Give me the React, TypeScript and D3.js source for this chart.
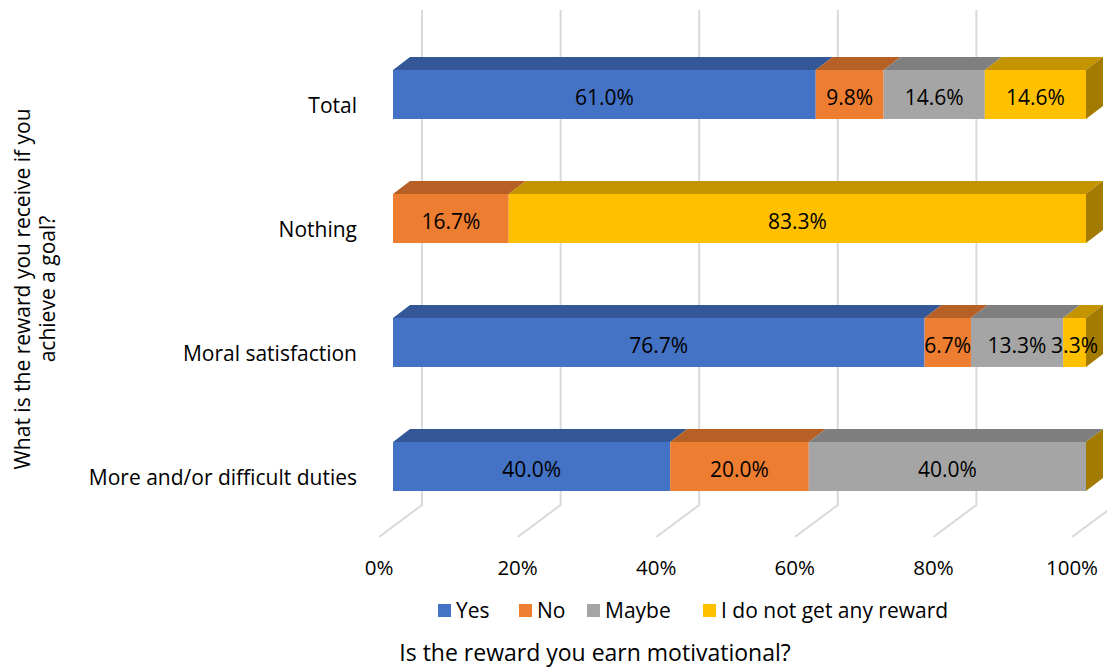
import React from "react";
import * as d3 from "d3";

// Survey answers per reward type, shares in percent
const categories = ["Total", "Nothing", "Moral satisfaction", "More and/or difficult duties"];
const seriesNames = ["Yes", "No", "Maybe", "I do not get any reward"];
const yesValues = [61.0, 0, 76.7, 40.0];
const noValues = [9.8, 16.7, 6.7, 20.0];
const maybeValues = [14.6, 0, 13.3, 40.0];
const noRewardValues = [14.6, 83.3, 3.3, 0];
const tickValues = [0, 20, 40, 60, 80, 100];

const seriesColors = ["#4472C4", "#ED7D31", "#A5A5A5", "#FFC000"];
const seriesValues = [yesValues, noValues, maybeValues, noRewardValues];

const W = 1107;
const H = 669;
const FONT = "'Open Sans', Lato, sans-serif";

// 3D projection offsets
const barDepth = { dx: 17, dy: -13 };
const floorDepth = { dx: 43, dy: -32 };

function shade(color: string, k: number) {
  const c = d3.rgb(color);
  return d3.rgb(c.r * k, c.g * k, c.b * k).formatHex();
}

export default function App() {
  // front face of the bars
  const x = d3.scaleLinear().domain([0, 100]).range([393, 1086]);
  const y = d3
    .scaleBand<string>()
    .domain(categories)
    .range([32.5, 528.5])
    .paddingInner(0.605)
    .paddingOuter(0.3025);
  const bw = y.bandwidth();

  // floor front edge and back wall
  const floorFrontY = 537;
  const wallBottomY = 505;
  const wallTopY = 10;
  const xFloorFront = (v: number) => x(v) - 14;
  const xWall = (v: number) => xFloorFront(v) + floorDepth.dx;

  const stacks = categories.map((cat, ci) => {
    let acc = 0;
    return seriesValues.map((vals, si) => {
      const v = vals[ci];
      const seg = { cat, si, v, x0: acc, x1: acc + v };
      acc += v;
      return seg;
    });
  });

  return (
    <svg
      width={W}
      height={H}
      style={{ position: "absolute", left: 0, top: 0, background: "#fff" }}
      fontFamily={FONT}
    >
      {/* gridlines: back wall and floor */}
      <g stroke="#D9D9D9" strokeWidth={2} fill="none">
        {tickValues.map((t) => (
          <path
            key={t}
            d={`M${xWall(t)},${wallTopY}V${wallBottomY}L${xFloorFront(t)},${floorFrontY}`}
          />
        ))}
      </g>

      {/* stacked 3D bars */}
      {stacks.map((segs, ci) => {
        const top = y(categories[ci]) as number;
        const last = segs[segs.length - 1];
        return (
          <g key={ci}>
            {segs
              .filter((s) => s.v > 0)
              .map((s) => {
                const a = x(s.x0);
                const b = x(s.x1);
                const c = seriesColors[s.si];
                return (
                  <g key={s.si}>
                    <rect x={a} y={top} width={b - a} height={bw} fill={c} />
                    <path
                      d={`M${a},${top}L${b},${top}L${b + barDepth.dx},${top + barDepth.dy}L${a + barDepth.dx},${top + barDepth.dy}Z`}
                      fill={shade(c, 0.77)}
                    />
                  </g>
                );
              })}
            {/* right side face of the end segment */}
            <path
              d={`M${x(100)},${top}L${x(100) + barDepth.dx},${top + barDepth.dy}L${x(100) + barDepth.dx},${top + bw + barDepth.dy}L${x(100)},${top + bw}Z`}
              fill={shade(seriesColors[last.si], 0.64)}
            />
            {segs
              .filter((s) => s.v > 0)
              .map((s) => (
                <text
                  key={"l" + s.si}
                  x={(x(s.x0) + x(s.x1)) / 2}
                  y={top + bw / 2 + 2}
                  textAnchor="middle"
                  dominantBaseline="central"
                  fontSize={21}
                  fill="#000"
                >
                  {s.v.toFixed(1) + "%"}
                </text>
              ))}
            <text
              x={357}
              y={top + bw / 2 + 10}
              textAnchor="end"
              dominantBaseline="central"
              fontSize={21}
              fill="#000"
            >
              {categories[ci]}
            </text>
          </g>
        );
      })}

      {/* value axis labels */}
      {tickValues.map((t) => (
        <text
          key={"t" + t}
          x={xFloorFront(t)}
          y={567}
          textAnchor="middle"
          dominantBaseline="central"
          fontSize={20.5}
          fill="#000"
        >
          {t + "%"}
        </text>
      ))}

      {/* legend */}
      {seriesNames.map((name, i) => {
        const lx = [438, 519, 587, 703][i];
        return (
          <g key={name}>
            <rect x={lx} y={604} width={13} height={13} fill={seriesColors[i]} />
            <text x={lx + 18} y={610} dominantBaseline="central" fontSize={21} fill="#000">
              {name}
            </text>
          </g>
        );
      })}

      {/* axis titles */}
      <text x={595} y={652} textAnchor="middle" dominantBaseline="central" fontSize={23} fill="#000">
        Is the reward you earn motivational?
      </text>
      <g transform="translate(22,289) rotate(-90)">
        <text x={0} y={0} textAnchor="middle" dominantBaseline="central" fontSize={21} fill="#000">
          What is the reward you receive if you
        </text>
        <text x={0} y={25} textAnchor="middle" dominantBaseline="central" fontSize={21} fill="#000">
          achieve a goal?
        </text>
      </g>
    </svg>
  );
}
